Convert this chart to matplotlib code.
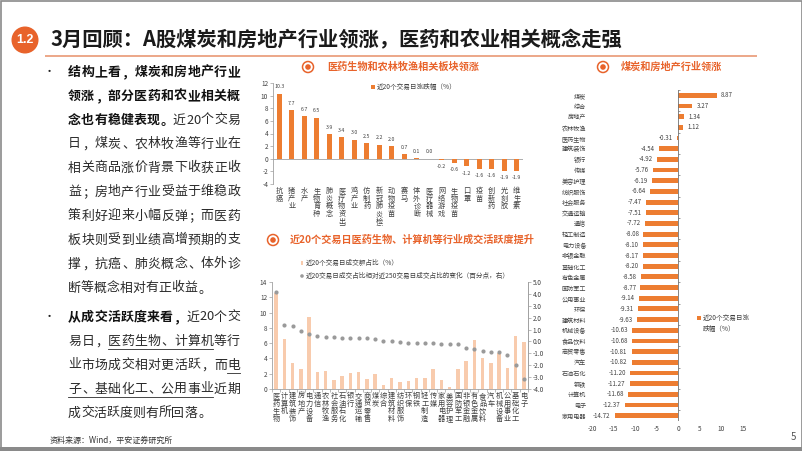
import matplotlib
matplotlib.use('Agg')
import matplotlib.pyplot as plt
from matplotlib.patches import Circle, Rectangle
from matplotlib.ticker import FormatStrFormatter
import numpy as np

plt.rcParams['font.family'] = ['Noto Sans CJK SC', 'DejaVu Sans']
plt.rcParams['axes.unicode_minus'] = False

W, H = 802, 451

# ---------------- data ----------------
concept_names = ['抗癌', '猪产业', '水产', '生物育种', '肺炎概念', '医疗物资出口', '鸡产业', '仿制药',
                 '新冠肺炎检测', '动物疫苗', '赛马', '体外诊断', '医疗器械', '网络游戏', '生物疫苗',
                 '口罩', '疫苗', '创新药', '光刻胶', '维生素']
concept_chg = [10.3, 7.7, 6.7, 6.5, 3.9, 3.4, 3.0, 2.5, 2.2, 2.0, 0.7, 0.1, 0.0, -0.2, -0.6,
               -1.2, -1.6, -1.6, -1.9, -1.9]

turnover_names = ['医药生物', '计算机', '建筑装饰', '房地产', '电力设备', '通信', '农林牧渔', '社会服务',
                  '石油石化', '银行', '交通运输', '商贸零售', '煤炭', '综合', '建筑材料', '纺织服饰',
                  '环保', '钢铁', '轻工制造', '传媒', '家用电器', '美容护理', '国防军工', '非银金融',
                  '有色金属', '食品饮料', '汽车', '机械设备', '公用事业', '基础化工', '电子']
turnover_share = [12.5, 6.6, 3.4, 2.6, 9.4, 2.2, 2.4, 1.2, 1.7, 2.1, 2.2, 1.3, 1.9, 0.5, 1.4, 0.9,
                  1.0, 1.4, 1.4, 2.6, 1.2, 0.3, 2.6, 3.6, 6.4, 4.1, 3.4, 4.7, 2.7, 6.9, 6.1]
turnover_delta = [4.2, 1.35, 1.3, 0.87, 0.6, 0.5, 0.4, 0.4, 0.31, 0.31, 0.31, 0.31, 0.22, 0.06, 0.06,
                  -0.03, -0.1, -0.1, -0.17, -0.17, -0.22, -0.22, -0.25, -0.53, -0.67, -0.84, -0.9,
                  -0.9, -1.12, -2.0, -3.14]

ind_names = ['煤炭', '综合', '房地产', '农林牧渔', '医药生物', '建筑装饰', '银行', '传媒', '美容护理',
             '纺织服饰', '社会服务', '交通运输', '通信', '轻工制造', '电力设备', '非银金融', '基础化工',
             '有色金属', '国防军工', '公用事业', '环保', '建筑材料', '机械设备', '食品饮料', '商贸零售',
             '汽车', '石油石化', '钢铁', '计算机', '电子', '家用电器']
ind_chg = [8.87, 3.27, 1.34, 1.12, -0.31, -4.54, -4.92, -5.76, -6.19, -6.64, -7.47, -7.51, -7.72,
           -8.08, -8.10, -8.17, -8.20, -8.58, -8.77, -9.14, -9.31, -9.63, -10.63, -10.68, -10.81,
           -10.82, -11.20, -11.27, -11.68, -12.37, -14.72]

# ---------------- style ----------------
ORANGE = '#ED7D31'
TITLE_OR = '#E8632B'
PEACH = '#F8CBAD'
DOT = '#9A9A9A'
AXC = '#A0A0A0'
TXT = '#404040'

fig = plt.figure(figsize=(W / 100, H / 100), dpi=100)
fig.patch.set_facecolor('white')


def ax_px(x0, y0, x1, y1, **kw):
    return fig.add_axes([x0 / W, 1 - y1 / H, (x1 - x0) / W, (y1 - y0) / H], **kw)


# ---------------- chart 1: concepts ----------------
ax1 = ax_px(273, 83, 523, 184)
x1 = np.arange(len(concept_names))
ax1.bar(x1, concept_chg, width=0.42, color=ORANGE, zorder=2)
ax1.set_xlim(-0.5, len(x1) - 0.5)
ax1.set_ylim(-4, 12)
ax1.set_yticks(np.arange(-4, 13, 2))
ax1.tick_params(axis='y', labelsize=4.6, length=2, width=0.5, color=AXC, labelcolor=TXT, pad=1.5)
ax1.set_xticks([])
for s in ['top', 'right', 'bottom']:
    ax1.spines[s].set_visible(False)
ax1.spines['left'].set_color(AXC)
ax1.spines['left'].set_linewidth(0.6)
ax1.axhline(0, color=AXC, lw=0.6, zorder=1)
for xi, v in zip(x1, concept_chg):
    ax1.annotate(f'{v:.1f}', (xi, v), xytext=(0, 3.2 if v >= 0 else -3.2), textcoords='offset points',
                 ha='center', va='bottom' if v >= 0 else 'top', fontsize=3.8, color=TXT)

axl1 = ax_px(273, 186, 523, 226)
axl1.set_xlim(-0.5, len(x1) - 0.5)
axl1.set_ylim(1, 0)
axl1.axis('off')
for xi, name in zip(x1, concept_names):
    axl1.text(xi, 0.02, '\n'.join(name), ha='center', va='top', fontsize=5.2, linespacing=0.95,
              color=TXT, clip_on=True)

# ---------------- chart 2: turnover ----------------
ax2 = ax_px(272, 282, 528, 389)
x2 = np.arange(len(turnover_names))
ax2.bar(x2, turnover_share, width=0.42, color=PEACH, zorder=2)
ax2.set_xlim(-0.5, len(x2) - 0.5)
ax2.set_ylim(0, 14)
ax2.set_yticks(np.arange(0, 15, 2))
ax2.set_xticks(np.arange(-0.5, len(x2), 1))
ax2.set_xticklabels([])
ax2.tick_params(axis='x', length=2, width=0.5, color=AXC)
ax2.tick_params(axis='y', labelsize=4.6, length=2, width=0.5, color=AXC, labelcolor=TXT, pad=1.5)
ax2.spines['top'].set_visible(False)
for s in ['left', 'right', 'bottom']:
    ax2.spines[s].set_color(AXC)
    ax2.spines[s].set_linewidth(0.6)
ax2r = ax2.twinx()
ax2r.scatter(x2, turnover_delta, s=9, color=DOT, zorder=3, linewidths=0)
ax2r.set_ylim(-4, 5)
ax2r.set_yticks(np.arange(-4, 6, 1))
ax2r.yaxis.set_major_formatter(FormatStrFormatter('%.1f'))
ax2r.tick_params(axis='y', labelsize=4.6, length=2, width=0.5, color=AXC, labelcolor=TXT, pad=1.5)
for s in ['top', 'left', 'bottom']:
    ax2r.spines[s].set_visible(False)
ax2r.spines['right'].set_color(AXC)
ax2r.spines['right'].set_linewidth(0.6)

axl2 = ax_px(272, 391, 528, 432)
axl2.set_xlim(-0.5, len(x2) - 0.5)
axl2.set_ylim(1, 0)
axl2.axis('off')
for xi, name in zip(x2, turnover_names):
    axl2.text(xi, 0.02, '\n'.join(name), ha='center', va='top', fontsize=5.2, linespacing=0.95,
              color=TXT)

# ---------------- chart 3: industries ----------------
ax3 = ax_px(592, 90, 743, 421)
y3 = np.arange(len(ind_names))
ax3.barh(y3, ind_chg, height=0.45, color=ORANGE, zorder=2)
ax3.set_xlim(-20, 15)
ax3.set_ylim(len(y3) - 0.5, -0.5)
ax3.set_yticks(y3)
ax3.set_yticklabels(ind_names)
ax3.tick_params(axis='y', length=0, pad=4, labelsize=4.4, labelcolor=TXT)
ax3.set_xticks(np.arange(-20, 16, 5))
ax3.tick_params(axis='x', length=0, pad=3, labelsize=4.6, labelcolor=TXT)
for s in ax3.spines.values():
    s.set_visible(False)
ax3.axvline(0, color='#707070', lw=0.6, zorder=3)
ax3.hlines(np.arange(-0.5, len(y3), 2), 0, 0.45, color='#707070', lw=0.5, zorder=3)
for yi, v in zip(y3, ind_chg):
    ax3.annotate(f'{v:.2f}', (v, yi), xytext=(3 if v >= 0 else -3, 0), textcoords='offset points',
                 ha='left' if v >= 0 else 'right', va='center', fontsize=4.4, color=TXT)

# ---------------- overlay (page decoration & text) ----------------
ov = fig.add_axes([0, 0, 1, 1], zorder=10)
ov.set_xlim(0, W)
ov.set_ylim(H, 0)
ov.axis('off')
ov.patch.set_alpha(0)

# frame
ov.add_patch(Rectangle((0.5, 0.5), W - 1, H - 1, fill=False, edgecolor='#8a8a8a', lw=1.2))
ov.add_patch(Rectangle((0, 447), W, 4, color='#8a8a8a', lw=0))

# cut off right-axis labels of middle chart like the reference
ov.add_patch(Rectangle((543, 330), 12, 62, color='white', lw=0))

# main title
ov.add_patch(Circle((25, 40), 13.5, color=TITLE_OR, lw=0))
ov.text(25, 40, '1.2', color='white', fontsize=9, fontweight='bold', ha='center', va='center',
        family=['Liberation Sans', 'DejaVu Sans'])
ov.text(50, 40, '3月回顾：A股煤炭和房地产行业领涨，医药和农业相关概念走强', fontsize=14.6,
        fontweight='bold', color='#1a1a1a', ha='left', va='center')
ov.plot([45, 757], [56, 56], color='#EBA07F', lw=1.3, solid_capstyle='butt')


def icon(x, y):
    ov.add_patch(Circle((x, y), 5.5, fill=False, edgecolor=TITLE_OR, lw=1.1))
    ov.add_patch(Circle((x, y), 2.8, color=TITLE_OR, lw=0))


# sub titles
icon(308, 67)
ov.text(327, 67, '医药生物和农林牧渔相关板块领涨', fontsize=7.3, fontweight='bold', color=TITLE_OR,
        ha='left', va='center')
icon(273, 240)
ov.text(290, 240, '近20个交易日医药生物、计算机等行业成交活跃度提升', fontsize=7.3, fontweight='bold',
        color=TITLE_OR, ha='left', va='center')
icon(603, 67)
ov.text(621, 67, '煤炭和房地产行业领涨', fontsize=7.3, fontweight='bold', color=TITLE_OR,
        ha='left', va='center')

# legends
ov.add_patch(Rectangle((371, 85), 3.5, 3.5, color=ORANGE, lw=0))
ov.text(377, 87, '近20个交易日涨跌幅（%）', fontsize=4.8, color=TXT, ha='left', va='center')
ov.add_patch(Rectangle((300.5, 261), 2.5, 4, color=PEACH, lw=0))
ov.text(306, 263, '近20个交易日成交额占比（%）', fontsize=4.8, color=TXT, ha='left', va='center')
ov.add_patch(Circle((302, 276), 1.8, color=DOT, lw=0))
ov.text(306, 276, '近20交易日成交占比相对近250交易日成交占比的变化（百分点，右）', fontsize=4.8,
        color=TXT, ha='left', va='center')
ov.add_patch(Rectangle((697, 316), 3.5, 3.5, color=ORANGE, lw=0))
ov.text(703, 318, '近20个交易日涨', fontsize=4.8, color=TXT, ha='left', va='center')
ov.text(703, 329, '跌幅（%）', fontsize=4.8, color=TXT, ha='left', va='center')

# left body text
FS = 9.3
PX = FS / 0.72
PUNCT = set('，。、；：')


def draw_line(segments, y, justify, x0=68, width=172):
    chars = []
    for text, bold, ul in segments:
        for ch in text:
            adv = PX * 0.56 if ch.isascii() else PX
            chars.append((ch, bold, ul, adv))
    total = sum(c[3] for c in chars)
    gap = (width - total) / (len(chars) - 1) if justify and len(chars) > 1 else 0.0
    x = x0
    ul_start = None
    for i, (ch, bold, ul, adv) in enumerate(chars):
        col = '#111111' if bold else '#2a2a2a'
        if ch in PUNCT:
            ov.text(x + 1, y + 1, ch, fontsize=FS, fontweight='bold' if bold else 'normal',
                    ha='left', va='center', color=col)
        else:
            ov.text(x + adv / 2, y, ch, fontsize=FS, fontweight='bold' if bold else 'normal',
                    ha='center', va='center', color=col)
        if ul and ul_start is None:
            ul_start = x
        nxt_ul = chars[i + 1][2] if i + 1 < len(chars) else False
        if ul and not nxt_ul:
            ov.plot([ul_start, x + adv], [y + 8, y + 8], color='#2a2a2a', lw=0.6)
            ul_start = None
        x += adv + gap


para1 = [
    [('结构上看，煤炭和房地产行业', True, False)],
    [('领涨，部分医药和农业相关概', True, False)],
    [('念也有稳健表现。', True, False), ('近20个交易', False, False)],
    [('日，煤炭、农林牧渔等行业在', False, False)],
    [('相关商品涨价背景下收获正收', False, False)],
    [('益；房地产行业受益于维稳政', False, False)],
    [('策利好迎来小幅反弹；而医药', False, False)],
    [('板块则受到业绩高增预期的支', False, False)],
    [('撑，抗癌、肺炎概念、体外诊', False, False)],
    [('断等概念相对有正收益。', False, False)],
]
para2 = [
    [('从成交活跃度来看，', True, False), ('近20个交', False, False)],
    [('易日，', False, False), ('医药生物、计算机', False, True), ('等行', False, False)],
    [('业市场成交相对更活跃，而', False, False), ('电', False, True)],
    [('子、基础化工、公用事业', False, True), ('近期', False, False)],
    [('成交活跃度则有所回落。', False, False)],
]
ov.text(49, 72, '•', fontsize=8, ha='center', va='center', color='#222222')
for i, segs in enumerate(para1):
    draw_line(segs, 72 + 24 * i, justify=(i < len(para1) - 1))
ov.text(49, 317, '•', fontsize=8, ha='center', va='center', color='#222222')
for i, segs in enumerate(para2):
    draw_line(segs, 317 + 24 * i, justify=(i < len(para2) - 1))

ov.text(50, 440, '资料来源：Wind，平安证券研究所', fontsize=5.8, color='#333333', ha='left', va='center')
ov.text(793, 437, '5', fontsize=7, color='#555555', ha='center', va='center')

fig.savefig('out.png', dpi=100, facecolor='white')
